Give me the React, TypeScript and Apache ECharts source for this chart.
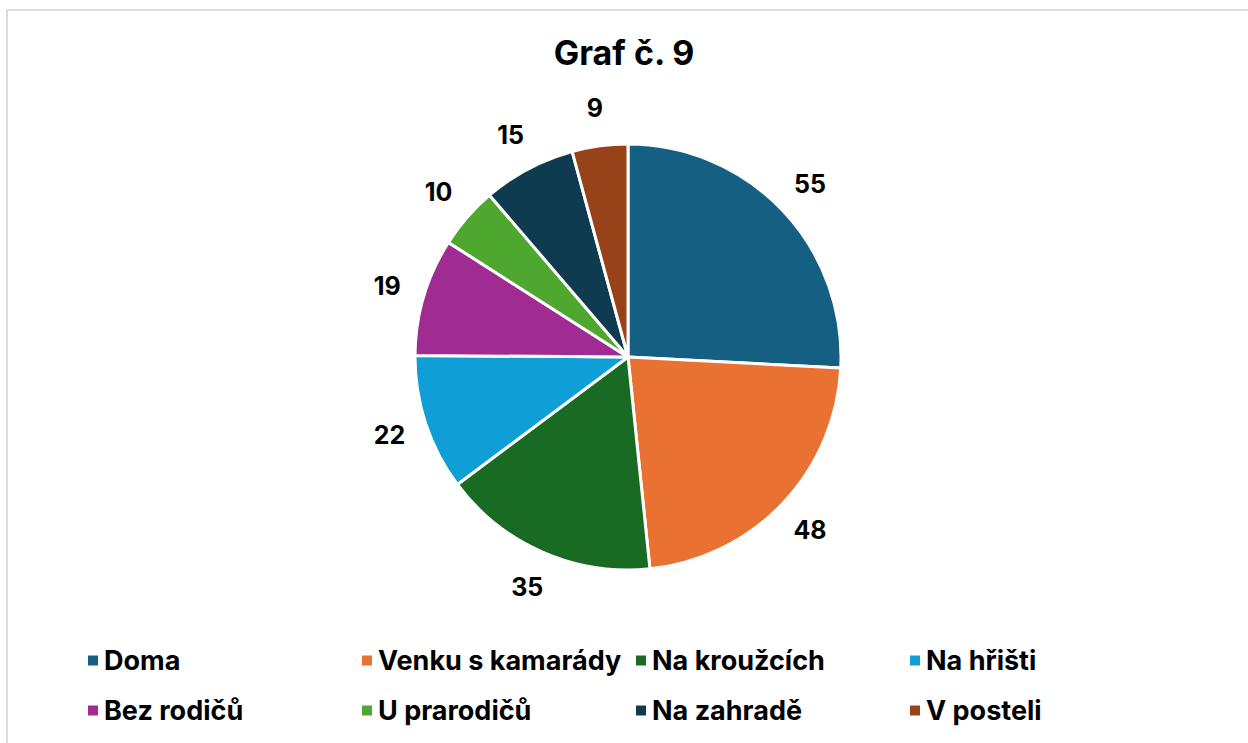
import React, { useEffect, useRef } from "react";
import * as echarts from "echarts";

const categories = [
  "Doma",
  "Venku s kamarády",
  "Na kroužcích",
  "Na hřišti",
  "Bez rodičů",
  "U prarodičů",
  "Na zahradě",
  "V posteli",
];
const values = [55, 48, 35, 22, 19, 10, 15, 9];
const colors = [
  "#156082",
  "#E97132",
  "#196B24",
  "#0F9ED5",
  "#A02B93",
  "#4EA72E",
  "#0E3B4F",
  "#98421A",
];
const title = "Graf č. 9";
const FONT = "Inter, 'Liberation Sans', Arial, sans-serif";

export default function App() {
  const ref = useRef<HTMLDivElement>(null);
  useEffect(() => {
    if (!ref.current) return;
    const chart = echarts.init(ref.current, undefined, { renderer: "svg" });
    const data = categories.map((name, i) => ({
      name,
      value: values[i],
      itemStyle: { color: colors[i] },
    }));
    chart.setOption({
      animation: false,
      backgroundColor: "#ffffff",
      title: {
        text: title,
        left: "center",
        top: 35,
        padding: 0,
        textStyle: { fontFamily: FONT, fontSize: 34, fontWeight: "bold", color: "#000" },
      },
      graphic: [
        {
          type: "rect",
          shape: { x: 7, y: 10, width: 1400, height: 900 },
          style: { fill: "none", stroke: "#d9d9d9", lineWidth: 2 },
          silent: true,
          z: 100,
        },
      ],
      legend: {
        left: 86,
        top: 641,
        width: 1130,
        padding: 0,
        orient: "horizontal",
        icon: "rect",
        itemWidth: 12,
        itemHeight: 12,
        itemGap: 11,
        itemTextGap: 10,
        selectedMode: false,
        textStyle: {
          fontFamily: FONT,
          fontSize: 27,
          fontWeight: "bold",
          color: "#000",
          width: 245,
          lineHeight: 39,
        },
        data: categories.map((n, i) => ({ name: n, itemStyle: { color: colors[i] } })),
      },
      series: [
        {
          type: "pie",
          center: [628, 357],
          radius: [0, 213],
          startAngle: 90,
          clockwise: true,
          silent: true,
          label: { show: false },
          labelLine: { show: false },
          emphasis: { disabled: true },
          itemStyle: { borderColor: "#ffffff", borderWidth: 3 },
          data,
        },
        {
          type: "pie",
          center: [628, 357],
          radius: [214, 282],
          startAngle: 90,
          clockwise: true,
          silent: true,
          emphasis: { disabled: true },
          itemStyle: { color: "rgba(0,0,0,0)", borderWidth: 0 },
          label: {
            show: true,
            position: "inside",
            formatter: "{c}",
            fontFamily: FONT,
            fontSize: 25,
            fontWeight: "bold",
            color: "#000",
          },
          labelLine: { show: false },
          data: categories.map((name, i) => ({
            name,
            value: values[i],
            itemStyle: { color: "rgba(0,0,0,0)" },
          })),
        },
      ],
    });
    return () => chart.dispose();
  }, []);
  return (
    <div
      ref={ref}
      style={{ position: "absolute", left: 0, top: 0, width: 1248, height: 743 }}
    />
  );
}
